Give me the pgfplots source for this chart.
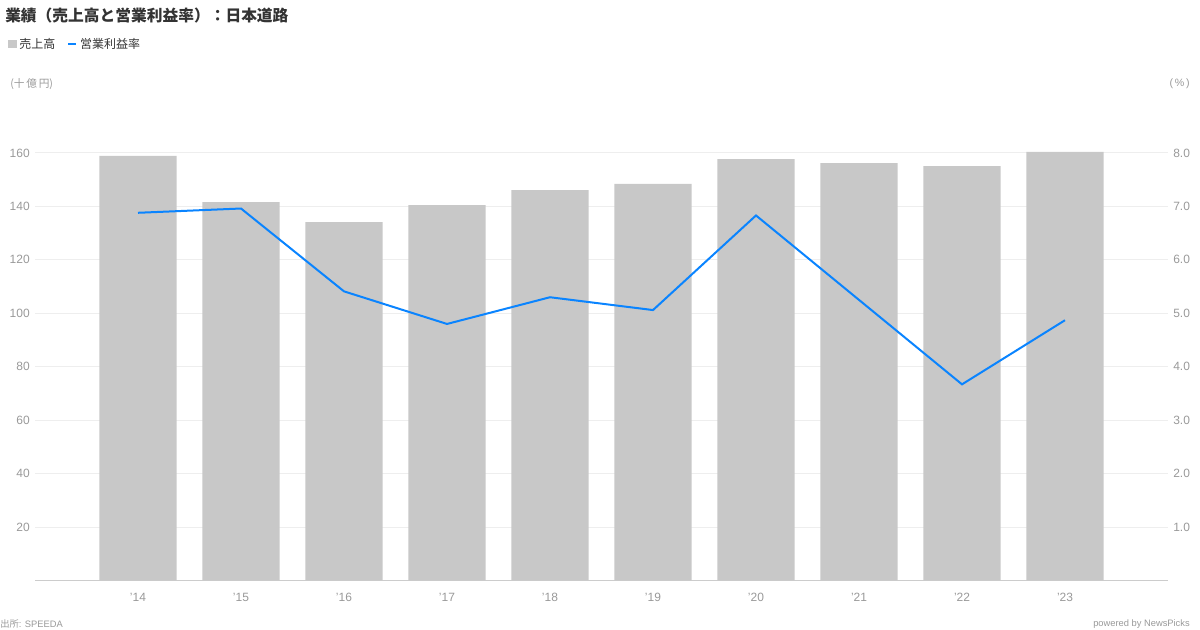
\documentclass[border=0pt]{standalone}
\usepackage{fontspec}
\setmainfont{Liberation Sans}
\newfontfamily\jp{Noto Sans CJK JP}
\usepackage{pgfplots}
\pgfplotsset{compat=1.18}

\definecolor{barc}{HTML}{C8C8C8}
\definecolor{linec}{HTML}{0A84FF}
\definecolor{tickc}{HTML}{999999}
\definecolor{gridc}{HTML}{EEEEEE}
\definecolor{axc}{HTML}{CCCCCC}
\definecolor{titc}{HTML}{333333}

\begin{document}
\begin{tikzpicture}
% page: 1200x630 px, 1 px = 0.75 pt
\useasboundingbox (0pt,0pt) rectangle (900pt,472.5pt);

\node[anchor=west, inner sep=0pt, text=titc, font=\jp\bfseries\fontsize{11.8}{14}\selectfont]
  at (3.75pt,460.5pt) {業績（売上高と営業利益率）：日本道路};
\node[anchor=west, inner sep=0pt, text=tickc, font=\jp\fontsize{8}{9}\selectfont]
  at (7.5pt,409.5pt) {(十\,億\,円)};
\node[anchor=east, inner sep=0pt, text=tickc, font=\fontsize{8}{9}\selectfont]
  at (892.5pt,409.5pt) {(\,\%\,)};
\node[anchor=west, inner sep=0pt, text=tickc, font=\fontsize{7}{9}\selectfont]
  at (0pt,4.5pt) {{\jp 出所}: SPEEDA};
\node[anchor=east, inner sep=0pt, text=tickc, font=\fontsize{7}{9}\selectfont]
  at (892.5pt,4.5pt) {powered by NewsPicks};

% sales (left axis)
\begin{axis}[
    at={(26.25pt,37.125pt)}, anchor=south west,
    scale only axis, width=849.75pt, height=360.75pt,
    xmin=-1, xmax=10, ymin=0, ymax=180,
    axis x line*=bottom, axis y line*=left,
    x axis line style={axc, line width=1.1pt, -},
    y axis line style={draw=none},
    xtick={0,...,9},
    xticklabels={'14,'15,'16,'17,'18,'19,'20,'21,'22,'23},
    ytick={20,40,60,80,100,120,140,160},
    ymajorgrids, grid style={gridc, line width=0.75pt},
    major tick length=0pt,
    tick label style={font=\fontsize{9}{10}\selectfont, text=tickc},
    yticklabel style={anchor=east, inner sep=0pt, xshift=-3.75pt},
    xticklabel style={anchor=north, inner sep=0pt, yshift=-9pt},
    /pgf/number format/assume math mode=true,
    legend style={draw=none, fill=none, at={(-0.0238,1.1154)}, anchor=west,
        legend columns=-1, inner sep=0pt,
        font=\jp\fontsize{9}{10}\selectfont, text=titc,
        /tikz/every even column/.append style={column sep=7pt}},
    legend cell align=left,
]
\addplot[ybar, bar width=0.75, fill=barc, draw=none,
    legend image code/.code={\fill[barc] (0pt,-3.2pt) rectangle (6.4pt,3.2pt);}]
    coordinates {(0,158.9) (1,141.6) (2,134.1) (3,140.5) (4,146.1)
                 (5,148.4) (6,157.7) (7,156.2) (8,155.1) (9,160.4)};
\addlegendimage{legend image code/.code={\draw[linec, line width=1.5pt] (0pt,0pt) -- (6pt,0pt);}}
\legend{売上高, 営業利益率}
\end{axis}

% operating margin (right axis)
\begin{axis}[
    at={(26.25pt,37.125pt)}, anchor=south west,
    scale only axis, width=849.75pt, height=360.75pt,
    xmin=-1, xmax=10, ymin=0, ymax=9,
    axis x line=none, axis y line*=right,
    y axis line style={draw=none},
    ytick={1,2,3,4,5,6,7,8},
    major tick length=0pt,
    tick label style={font=\fontsize{9}{10}\selectfont, text=tickc},
    yticklabel style={anchor=west, inner sep=0pt, xshift=3.75pt,
        /pgf/number format/.cd, fixed, fixed zerofill, precision=1},
    /pgf/number format/assume math mode=true,
]
\addplot[linec, line width=1.5pt, mark=none]
    coordinates {(0,6.88) (1,6.96) (2,5.41) (3,4.80) (4,5.30)
                 (5,5.06) (6,6.83) (7,5.25) (8,3.67) (9,4.87)};
\end{axis}
\end{tikzpicture}
\end{document}
